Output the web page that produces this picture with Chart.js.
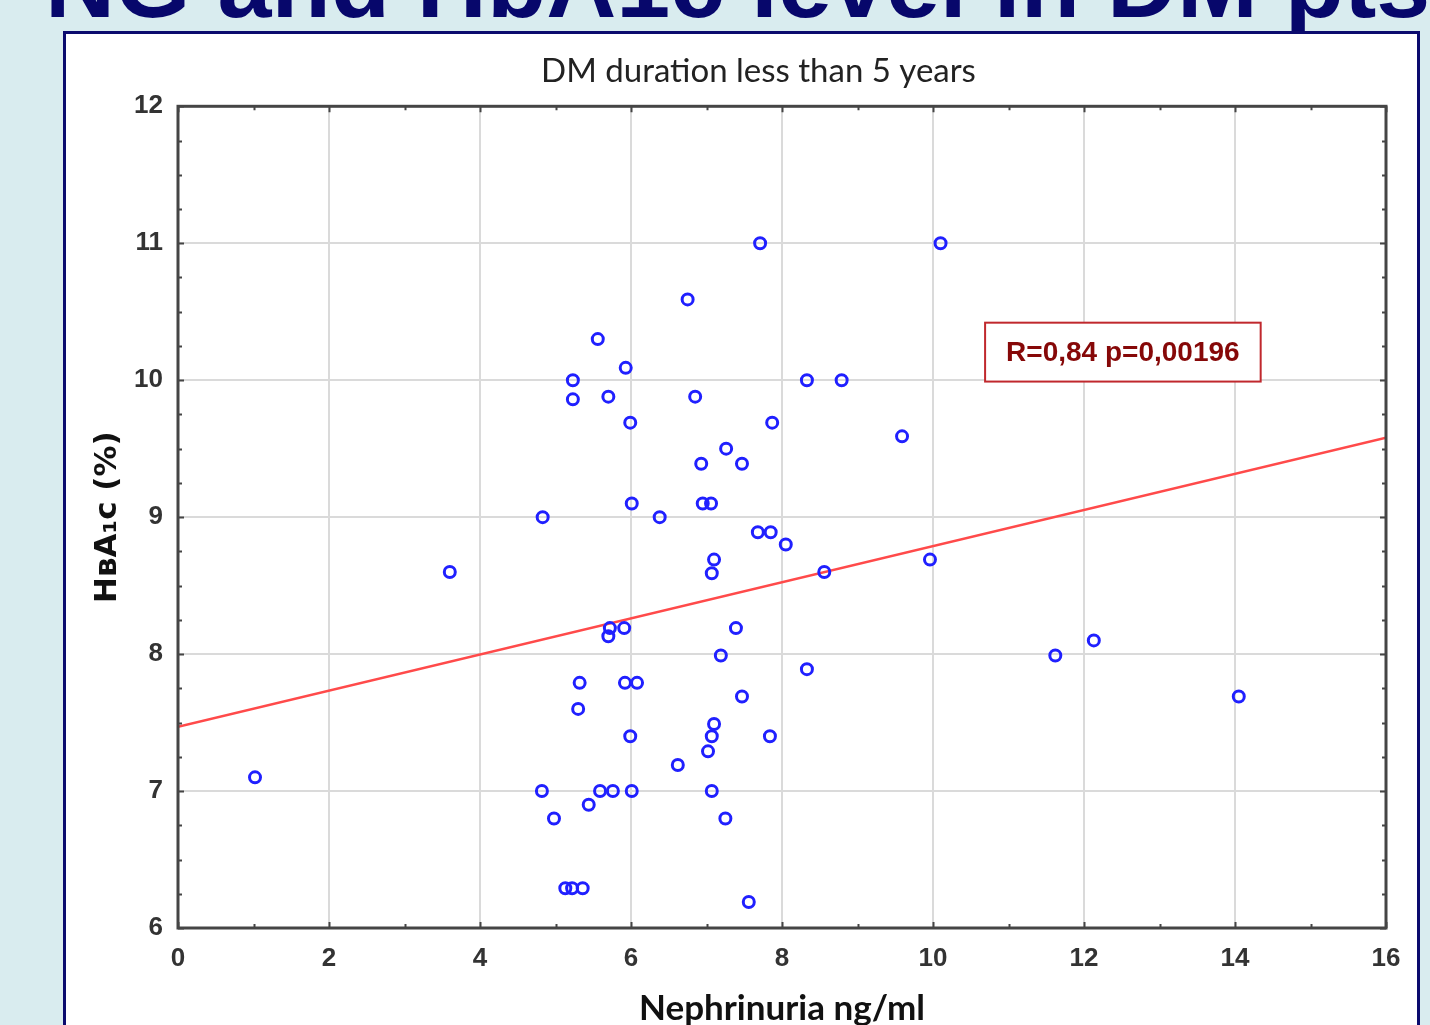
<!DOCTYPE html>
<html>
<head>
<meta charset="utf-8">
<script src="https://cdn.jsdelivr.net/npm/chart.js@4.4.0/dist/chart.umd.min.js"></script>
<style>
  html, body { margin: 0; padding: 0; width: 1430px; height: 1025px; overflow: hidden; background: #d9ecef; }
  #heading { position: absolute; left: 45px; top: -65px; font: bold 97px 'Liberation Sans', Arial, sans-serif; line-height: 97px; color: #07076b; white-space: nowrap; }
  #panel { position: absolute; left: 63px; top: 31px; width: 1351px; height: 1100px; border: 3px solid #0b0b6e; background: #fff; }
  #wrap { position: absolute; left: 67px; top: 35px; width: 1350px; height: 990px; }
</style>
</head>
<body>
<div id="heading">NG and HbA1c level in DM pts</div>
<div id="panel"></div>
<div id="wrap"><canvas id="scatter"></canvas></div>
<script>
// values
const nephrinuria = [1.02, 3.6, 4.83, 4.82, 4.98, 5.23, 5.23, 5.56, 5.70, 5.93, 5.99, 6.01, 6.38,
  6.75, 6.85, 6.93, 6.95, 7.06, 7.26, 7.47, 7.71, 7.87, 7.68, 7.85, 8.05, 8.33, 8.79, 8.56, 9.59,
  10.1, 9.96, 7.10, 7.07, 5.72, 5.91, 5.70, 7.39, 7.19, 8.33, 5.32, 5.92, 6.08, 5.30, 7.47, 7.10,
  7.07, 5.99, 7.84, 7.02, 6.62, 5.59, 5.76, 6.01, 7.07, 5.44, 7.25, 5.13, 5.22, 5.36, 7.56,
  11.62, 12.13, 14.05];
const hba1c = [7.1, 8.6, 9.0, 7.0, 6.8, 10.0, 9.86, 10.3, 9.88, 10.09, 9.69, 9.1, 9.0,
  10.59, 9.88, 9.39, 9.1, 9.1, 9.5, 9.39, 11.0, 9.69, 8.89, 8.89, 8.8, 10.0, 10.0, 8.6, 9.59,
  11.0, 8.69, 8.69, 8.59, 8.19, 8.19, 8.13, 8.19, 7.99, 7.89, 7.79, 7.79, 7.79, 7.6, 7.69, 7.49,
  7.4, 7.4, 7.4, 7.29, 7.19, 7.0, 7.0, 7.0, 7.0, 6.9, 6.8, 6.29, 6.29, 6.29, 6.19,
  7.99, 8.1, 7.69];
const fitX = [0, 16];
const fitY = [7.47, 9.58];
const statsText = 'R=0,84 p=0,00196';

const points = nephrinuria.map((v, i) => ({ x: v, y: hba1c[i] }));
const fitLine = fitX.map((v, i) => ({ x: v, y: fitY[i] }));

// frame round the plot with inward tick marks on every side
const frame = {
  id: 'frame',
  afterDatasetsDraw(chart) {
    const { ctx, chartArea: a, scales: { x, y } } = chart;
    ctx.save();
    ctx.strokeStyle = '#454545';
    ctx.lineWidth = 2;
    ctx.beginPath();
    x.ticks.forEach(t => {
      const px = Math.round(x.getPixelForValue(t.value)) + 0.5;
      const len = t.value % 2 === 0 ? 6 : 4;
      ctx.moveTo(px, a.bottom); ctx.lineTo(px, a.bottom - len);
      ctx.moveTo(px, a.top); ctx.lineTo(px, a.top + len);
    });
    y.ticks.forEach(t => {
      const py = Math.round(y.getPixelForValue(t.value)) + 0.5;
      const len = Number.isInteger(t.value) ? 6 : 4;
      ctx.moveTo(a.left, py); ctx.lineTo(a.left + len, py);
      ctx.moveTo(a.right, py); ctx.lineTo(a.right - len, py);
    });
    ctx.stroke();
    ctx.lineWidth = 3;
    ctx.strokeRect(a.left, a.top, a.right - a.left, a.bottom - a.top);

    // stats box
    const bx0 = x.getPixelForValue(10.69), bx1 = x.getPixelForValue(14.34);
    const by0 = y.getPixelForValue(10.42), by1 = y.getPixelForValue(9.99);
    ctx.fillStyle = '#fff';
    ctx.fillRect(bx0, by0, bx1 - bx0, by1 - by0);
    ctx.strokeStyle = '#c0282d';
    ctx.lineWidth = 2;
    ctx.strokeRect(bx0, by0, bx1 - bx0, by1 - by0);
    ctx.fillStyle = '#860808';
    ctx.font = 'bold 28px "Liberation Sans", Arial, sans-serif';
    ctx.textAlign = 'center';
    ctx.textBaseline = 'middle';
    ctx.fillText(statsText, (bx0 + bx1) / 2, (by0 + by1) / 2 + 1);
    ctx.restore();
  }
};

Chart.defaults.font.family = "'Liberation Sans', Arial, sans-serif";
Chart.defaults.color = '#333';

new Chart(document.getElementById('scatter'), {
  type: 'scatter',
  data: {
    datasets: [
      {
        data: points,
        pointStyle: 'circle',
        pointRadius: 5.5,
        pointBorderWidth: 3,
        borderColor: '#2020ff',
        backgroundColor: 'rgba(0,0,0,0)'
      },
      {
        data: fitLine,
        showLine: true,
        pointRadius: 0,
        borderColor: '#ff4a4a',
        borderWidth: 2.5
      }
    ]
  },
  plugins: [frame],
  options: {
    responsive: true,
    maintainAspectRatio: false,
    animation: false,
    // left padding shifts the chart title to the reference centre; y scale is narrowed to match
    layout: { padding: { left: 64, right: 31, top: 0, bottom: 0 } },
    plugins: {
      legend: { display: false },
      tooltip: { enabled: false },
      title: {
        display: true,
        text: 'DM duration less than 5 years',
        color: '#222',
        font: { family: 'Lato', size: 33, weight: 'normal', lineHeight: 1.1 },
        padding: { top: 18, bottom: 17 }
      }
    },
    scales: {
      x: {
        type: 'linear',
        min: 0,
        max: 16,
        afterFit: s => { s.height = 97; },
        ticks: {
          stepSize: 1,
          padding: 15,
          color: '#333',
          font: { size: 26, weight: 'bold' },
          callback: v => (v % 2 === 0 ? v : '')
        },
        grid: {
          drawTicks: false,
          lineWidth: 2,
          color: c => (c.tick && c.tick.value % 2 === 0 ? '#dadada' : 'rgba(0,0,0,0)')
        },
        border: { display: false },
        title: {
          display: true,
          text: 'Nephrinuria ng/ml',
          color: '#111',
          font: { family: 'Lato', size: 35, weight: 'bold', lineHeight: 1 },
          padding: { top: 0, bottom: -1 }
        }
      },
      y: {
        type: 'linear',
        min: 6,
        max: 12,
        afterFit: s => { s.width = 47; },
        ticks: {
          stepSize: 0.25,
          padding: 15,
          color: '#333',
          font: { size: 26, weight: 'bold' },
          callback: v => (Number.isInteger(v) ? v : '')
        },
        grid: {
          drawTicks: false,
          lineWidth: 2,
          color: c => (c.tick && Number.isInteger(c.tick.value) ? '#dadada' : 'rgba(0,0,0,0)')
        },
        border: { display: false },
        title: {
          display: true,
          text: 'HʙA₁c (%)',
          color: '#111',
          font: { family: "'DejaVu Sans'", size: 31, weight: 'bold', lineHeight: 1 },
          padding: { top: -38.5, bottom: 0 }
        }
      }
    }
  }
});
</script>
</body>
</html>
